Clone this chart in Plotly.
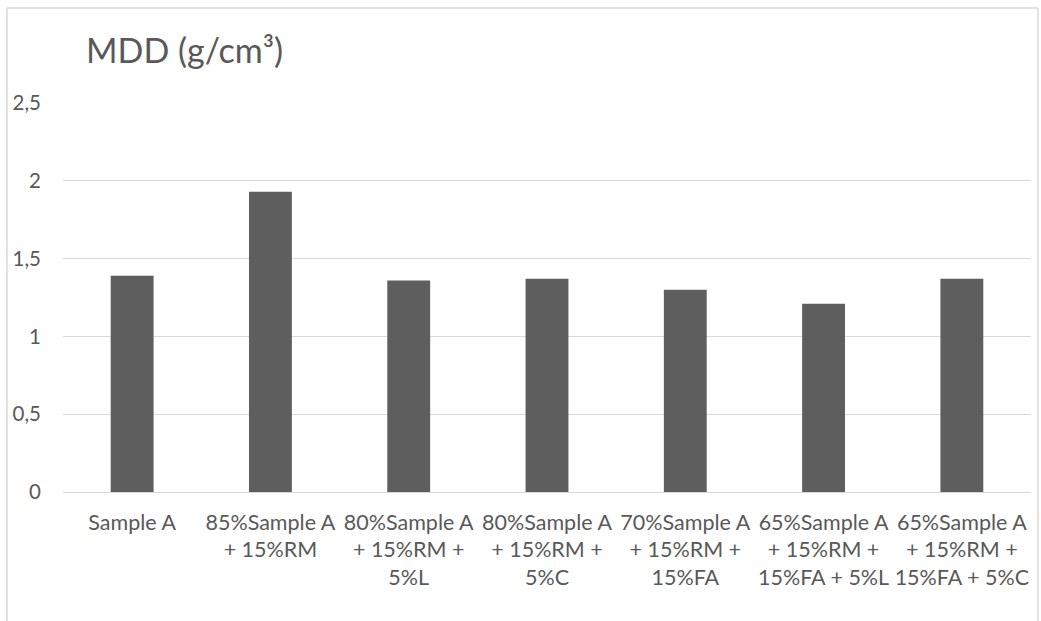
import plotly.graph_objects as go

# MDD values per mix
categories = [
    "Sample A",
    "85%Sample A<br>+ 15%RM",
    "80%Sample A<br>+ 15%RM +<br>5%L",
    "80%Sample A<br>+ 15%RM +<br>5%C",
    "70%Sample A<br>+ 15%RM +<br>15%FA",
    "65%Sample A<br>+ 15%RM +<br>15%FA + 5%L",
    "65%Sample A<br>+ 15%RM +<br>15%FA + 5%C",
]
mdd_values = [1.39, 1.93, 1.36, 1.37, 1.30, 1.21, 1.37]
y_tick_values = [0, 0.5, 1, 1.5, 2, 2.5]
y_tick_labels = ["0", "0,5", "1", "1,5", "2", "2,5"]

W, H = 1041, 621
ML, MR, MT, MB = 63, 10, 103, 129
PW, PH = W - ML - MR, H - MT - MB

TEXT = "#595959"
GRID = "#d9d9d9"
FONT = "Lato, 'Open Sans', sans-serif"

x_idx = list(range(len(categories)))

fig = go.Figure(
    go.Bar(
        x=x_idx,
        y=mdd_values,
        marker=dict(color="#5e5e5e", line=dict(width=0)),
        hoverinfo="y",
    )
)

fig.update_layout(
    width=W,
    height=H,
    margin=dict(l=ML, r=MR, t=MT, b=MB),
    paper_bgcolor="white",
    plot_bgcolor="white",
    bargap=0.69,
    showlegend=False,
    font=dict(family=FONT, color=TEXT),
    title=dict(
        text="MDD (g/cm³)",
        x=86 / W,
        xanchor="left",
        xref="container",
        y=1 - 51 / H,
        yanchor="middle",
        yref="container",
        font=dict(family=FONT, size=34, color=TEXT),
    ),
)

fig.update_xaxes(
    tickmode="array",
    tickvals=x_idx,
    ticktext=categories,
    range=[-0.5, len(categories) - 0.5],
    showgrid=False,
    showline=False,
    zeroline=False,
    ticks="",
    tickfont=dict(family=FONT, size=21.5, color=TEXT),
    ticklabelstandoff=15,
)

fig.update_yaxes(
    range=[0, 2.5],
    tickmode="array",
    tickvals=y_tick_values,
    ticktext=y_tick_labels,
    showgrid=True,
    gridcolor=GRID,
    gridwidth=1.3,
    zeroline=True,
    zerolinecolor=GRID,
    zerolinewidth=1.3,
    showline=False,
    ticks="",
    tickfont=dict(family=FONT, size=20.5, color=TEXT),
    ticklabelstandoff=21,
)

# Chart-area border (open at the bottom, running off the page)
bx0 = (7 - ML) / PW
bx1 = (1038 - ML) / PW
by_top = 1 + (MT - 8) / PH
by_bot = -(MB + 10) / PH
border = dict(color="#d9d9d9", width=1.5)
for x0, y0, x1, y1 in [
    (bx0, by_bot, bx0, by_top),
    (bx0, by_top, bx1, by_top),
    (bx1, by_top, bx1, by_bot),
]:
    fig.add_shape(type="line", xref="paper", yref="paper",
                  x0=x0, y0=y0, x1=x1, y1=y1, line=border, layer="below")

fig.write_html("out.html")
